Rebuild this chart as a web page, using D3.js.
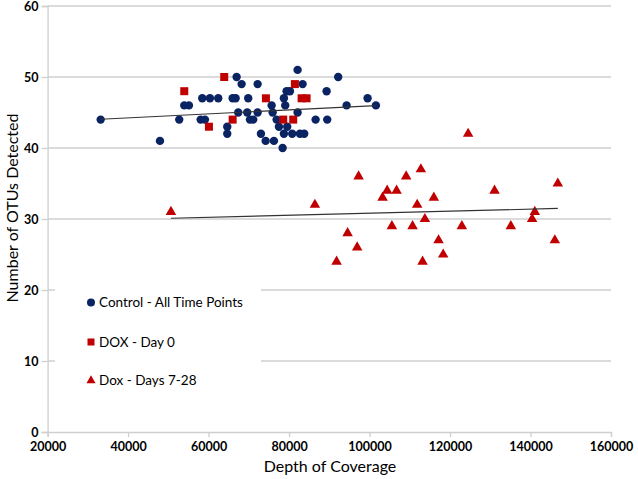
<!DOCTYPE html>
<html><head><meta charset="utf-8">
<script src="https://cdn.jsdelivr.net/npm/d3@7"></script>
<style>body{margin:0;background:#fff}svg{display:block}</style>
</head><body>
<script>
// Data
const controlX = [82120, 66970,92210, 68210,72190,83370, 79390,80210,89330,
  58430,60340,62400,65980,66720,69850,78720,99510,
  53960,55120,75670,79050,94300,101580,
  67370,69610,72190,75920,82120,
  33190,52710,58030,59100,70280,71100,76910,86600,89480,
  64640,77480,79540,
  64640,73010,78720,80780,82700,83770,
  47920,74180,76240, 78400];
const controlY = [51, 50,50, 49,49,49, 48,48,48,
  47,47,47,47,47,47,47,47,
  46,46,46,46,46,46,
  45,45,45,45,45,
  44,44,44,44,44,44,44,44,44,
  43,43,43,
  42,42,42,42,42,42,
  41,41,41, 40];
const day0X = [53960, 60090, 63890, 81450, 74250, 83120, 84360, 65980, 78550, 81030];
const day0Y = [48, 43, 50, 49, 47, 47, 47, 44, 44, 44];
const laterX = [50650, 86420, 91810, 94550, 96930, 97280, 103240, 104380, 105550, 106720,
  109100, 110690, 111840, 112750, 113180, 113750, 115980, 117150, 118300, 122940,
  124500, 131060, 135110, 140400, 141070, 146040, 146780];
const laterY = [31, 32, 24, 28, 26, 36, 33, 34, 29, 34,
  36, 29, 32, 37, 24, 30, 33, 27, 25, 29,
  42, 34, 29, 30, 31, 27, 35];
const xTicks = [20000, 40000, 60000, 80000, 100000, 120000, 140000, 160000];
const yTicks = [0, 10, 20, 30, 40, 50, 60];
const legendLabels = ["Control - All Time Points", "DOX - Day 0", "Dox - Days 7-28"];
const xTitle = "Depth of Coverage";
const yTitle = "Number of OTUs Detected";

const W = 638, H = 479;
const navy = "#0a2463", red = "#c00000", grid = "#cfcfcf";
const font = "Lato, 'Open Sans', sans-serif";

const svg = d3.select("body").append("svg").attr("width", W).attr("height", H);
const x = d3.scaleLinear().domain([20000, 160000]).range([47.6, 611]);
const y = d3.scaleLinear().domain([0, 60]).range([432, 6]);

// gridlines
svg.append("g").selectAll("line").data(yTicks.filter(d => d > 0)).join("line")
  .attr("x1", x(20000)).attr("x2", x(160000))
  .attr("y1", d => y(d)).attr("y2", d => y(d))
  .attr("stroke", grid).attr("stroke-width", 1.3);

// axes
const yAxis = svg.append("g").attr("transform", `translate(${x(20000)},0)`)
  .call(d3.axisLeft(y).tickValues(yTicks).tickSize(6).tickPadding(3));
const xAxis = svg.append("g").attr("transform", `translate(0,${y(0)})`)
  .call(d3.axisBottom(x).tickValues(xTicks).tickSize(5).tickFormat(d3.format("d")).tickPadding(5));
[xAxis, yAxis].forEach(a => {
  a.select(".domain").attr("stroke", grid).attr("stroke-width", 1.3);
  a.selectAll(".tick line").attr("stroke", grid).attr("stroke-width", 1.3);
  a.selectAll("text").attr("fill", "#000").attr("font-family", font)
    .attr("font-weight", "bold").attr("font-size", 12.5);
});

// legend background (hides gridlines)
svg.append("rect").attr("x", 55).attr("y", 272).attr("width", 206).attr("height", 130).attr("fill", "#fff");

const tri = d3.symbol().type(d3.symbolTriangle).size(48);

// control circles
svg.append("g").selectAll("circle").data(controlX.map((v, i) => [v, controlY[i]])).join("circle")
  .attr("cx", d => x(d[0])).attr("cy", d => y(d[1])).attr("r", 4.2).attr("fill", navy);
// day 0 squares
svg.append("g").selectAll("rect").data(day0X.map((v, i) => [v, day0Y[i]])).join("rect")
  .attr("x", d => x(d[0]) - 4).attr("y", d => y(d[1]) - 4).attr("width", 8).attr("height", 8).attr("fill", red);
// days 7-28 triangles
svg.append("g").selectAll("path").data(laterX.map((v, i) => [v, laterY[i]])).join("path")
  .attr("d", tri).attr("transform", d => `translate(${x(d[0])},${y(d[1])})`).attr("fill", red);

// linear trend lines computed from the data
function trend(xs, ys) {
  const mx = d3.mean(xs), my = d3.mean(ys);
  let sxy = 0, sxx = 0;
  xs.forEach((v, i) => { sxy += (v - mx) * (ys[i] - my); sxx += (v - mx) * (v - mx); });
  const b = sxy / sxx, a = my - b * mx;
  const [x0, x1] = d3.extent(xs);
  return [[x0, a + b * x0], [x1, a + b * x1]];
}
[[controlX, controlY], [laterX, laterY]].forEach(([xs, ys]) => {
  const t = trend(xs, ys);
  svg.append("line").attr("x1", x(t[0][0])).attr("y1", y(t[0][1]))
    .attr("x2", x(t[1][0])).attr("y2", y(t[1][1]))
    .attr("stroke", "#333").attr("stroke-width", 1.1);
});

// legend
const lg = svg.append("g");
const ly = [302.5, 342, 380.5];
lg.append("circle").attr("cx", 91).attr("cy", ly[0]).attr("r", 4).attr("fill", navy);
lg.append("rect").attr("x", 87.5).attr("y", ly[1] - 3.5).attr("width", 7).attr("height", 7).attr("fill", red);
lg.append("path").attr("d", d3.symbol().type(d3.symbolTriangle).size(36)).attr("transform", `translate(91,${ly[2]})`).attr("fill", red);
lg.selectAll("text").data(legendLabels).join("text")
  .attr("x", 99).attr("y", (d, i) => ly[i]).attr("dy", "0.36em")
  .attr("font-family", font).attr("font-size", 13.5).attr("fill", "#000").text(d => d);

// axis titles
svg.append("text").attr("x", 330).attr("y", 472).attr("text-anchor", "middle")
  .attr("font-family", font).attr("font-size", 16).attr("fill", "#000").text(xTitle);
svg.append("text").attr("transform", "translate(18,208) rotate(-90)").attr("text-anchor", "middle")
  .attr("font-family", font).attr("font-size", 16).attr("fill", "#000").text(yTitle);
</script>
</body></html>
